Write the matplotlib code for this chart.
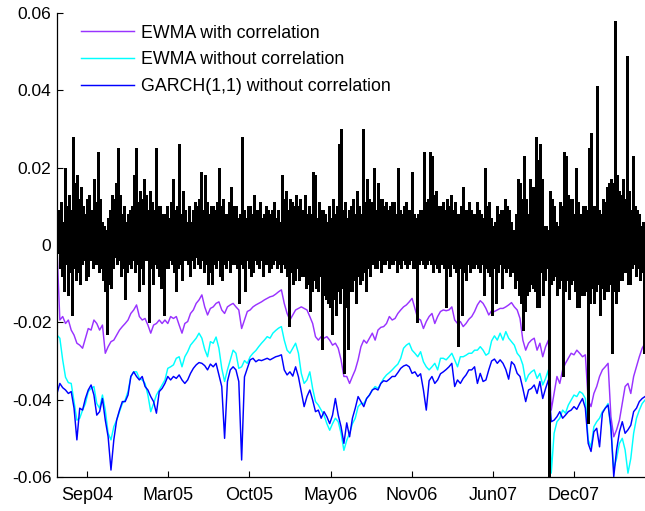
import numpy as np
import pandas as pd
import matplotlib
matplotlib.use('Agg')
import matplotlib.pyplot as plt

# ---------------- data (values in 1e-3 units) ----------------
line_dates = pd.date_range('2004-06-28', periods=208, freq='7D')
bar_dates = pd.date_range('2004-06-28', periods=580, freq='60h')

ewma_corr = np.array([
    -1.0, -19.4, -18.5, -20.3, -19.4, -22.0, -23.3, -25.4, -25.9, -26.7,
    -24.1, -21.6, -22.0, -19.4, -20.3, -22.0, -20.7, -28.0, -26.3, -25.0,
    -24.6, -23.3, -22.0, -21.1, -20.3, -19.4, -17.7, -16.8, -15.5, -18.5,
    -19.4, -19.0, -20.7, -22.8, -20.7, -20.3, -19.4, -20.3, -19.4, -20.3,
    -18.5, -19.0, -18.5, -20.7, -22.8, -20.3, -19.8, -17.7, -16.8, -15.1,
    -14.2, -12.9, -16.0, -18.1, -16.4, -16.0, -15.1, -14.7, -16.8, -17.7,
    -16.0, -15.5, -15.1, -16.0, -16.8, -21.6, -19.4, -17.2, -16.8, -16.0,
    -15.5, -15.1, -14.7, -14.2, -13.8, -13.4, -13.2, -12.7, -12.1, -11.6,
    -15.1, -17.7, -19.4, -18.1, -16.8, -16.4, -16.0, -16.4, -16.8, -18.5,
    -20.3, -23.7, -24.6, -23.7, -24.1, -23.7, -24.6, -25.9, -25.4, -26.7,
    -29.7, -34.0, -34.0, -35.8, -34.0, -32.3, -29.7, -26.3, -24.6, -25.4,
    -24.1, -22.8, -24.6, -22.0, -21.3, -21.1, -20.3, -18.5, -19.4, -19.0,
    -17.7, -16.8, -16.0, -15.5, -14.7, -13.8, -16.4, -19.0, -19.4, -21.6,
    -19.8, -18.5, -17.7, -20.3, -18.5, -17.2, -16.8, -17.0, -16.8, -16.0,
    -19.4, -20.3, -19.8, -21.1, -20.3, -19.2, -18.5, -17.2, -15.5, -14.4,
    -15.1, -16.4, -18.1, -17.0, -17.2, -16.8, -16.4, -16.4, -16.0, -15.5,
    -14.9, -16.0, -16.8, -19.0, -24.6, -27.2, -25.4, -24.6, -24.1, -27.2,
    -25.4, -28.9, -26.3, -24.6, -42.7, -38.4, -34.0, -35.8, -32.3, -30.6,
    -29.3, -28.0, -28.4, -27.2, -28.0, -28.9, -28.4, -40.1, -41.8, -38.4,
    -36.6, -34.0, -32.3, -31.5, -30.6, -44.4, -49.6, -47.8, -45.3, -41.0,
    -36.6, -35.8, -38.4, -34.0, -31.5, -28.9, -26.7, -25.4]) / 1000

ewma_nocorr = np.array([
    -23.3, -24.1, -29.7, -34.2, -35.6, -35.8, -40.5, -45.3, -44.8, -42.7,
    -41.0, -37.9, -37.1, -36.6, -41.0, -42.2, -38.8, -42.7, -48.7, -50.4,
    -47.0, -45.3, -43.1, -41.0, -40.1, -37.9, -34.0, -32.8, -32.8, -34.5,
    -34.9, -35.8, -38.8, -43.1, -41.0, -38.8, -37.5, -36.2, -34.9, -31.9,
    -31.5, -31.0, -29.3, -28.9, -31.5, -28.9, -27.6, -25.9, -25.0, -24.1,
    -22.8, -24.1, -27.0, -28.9, -25.0, -25.4, -23.8, -26.7, -31.9, -35.3,
    -32.3, -29.7, -27.2, -28.0, -31.9, -31.5, -29.9, -30.6, -28.9, -28.0,
    -27.3, -26.3, -25.4, -24.6, -23.7, -24.1, -22.8, -22.1, -21.5, -21.1,
    -24.6, -27.2, -28.0, -26.7, -25.4, -28.0, -33.2, -35.8, -34.9, -32.8,
    -37.1, -40.5, -41.4, -42.7, -44.0, -46.2, -47.9, -46.2, -44.8, -45.7,
    -48.7, -53.1, -50.5, -48.7, -46.2, -44.8, -41.8, -41.0, -41.0, -39.7,
    -38.8, -37.5, -36.6, -37.1, -35.8, -34.5, -33.6, -33.0, -32.3, -31.5,
    -30.8, -29.3, -26.7, -25.9, -25.4, -27.2, -28.0, -28.9, -27.6, -30.2,
    -31.5, -32.3, -31.5, -30.6, -32.3, -29.3, -29.3, -29.7, -28.9, -28.0,
    -29.7, -31.5, -28.9, -28.9, -28.5, -28.0, -28.0, -27.2, -27.2, -26.3,
    -27.2, -28.5, -28.0, -24.8, -23.5, -24.6, -22.8, -24.6, -22.4, -24.1,
    -25.0, -25.9, -28.0, -28.9, -31.0, -35.3, -33.6, -32.8, -32.3, -34.5,
    -33.2, -36.2, -34.5, -32.3, -59.0, -48.7, -45.7, -44.8, -42.7, -43.5,
    -41.4, -40.1, -38.8, -39.2, -37.9, -38.4, -39.7, -50.4, -52.2, -47.0,
    -45.7, -44.8, -43.1, -42.2, -41.0, -47.8, -57.8, -55.2, -51.3, -50.0,
    -53.0, -59.0, -55.2, -48.7, -44.8, -42.7, -41.0, -40.1]) / 1000

garch_nocorr = np.array([
    -38.4, -35.8, -36.9, -37.5, -38.4, -37.9, -42.2, -50.4, -42.2, -42.7,
    -39.7, -37.5, -36.2, -38.8, -44.0, -43.1, -39.7, -45.3, -49.6, -58.2,
    -50.4, -45.3, -42.7, -40.5, -40.5, -38.8, -34.0, -32.8, -34.0, -34.9,
    -34.0, -36.6, -37.5, -39.2, -40.5, -43.5, -37.9, -37.1, -35.8, -34.0,
    -34.9, -34.0, -34.5, -33.6, -34.9, -35.8, -34.9, -33.2, -31.9, -31.0,
    -30.4, -30.6, -31.2, -32.3, -30.8, -31.5, -30.6, -33.6, -36.6, -50.0,
    -35.3, -32.3, -31.5, -32.3, -35.3, -55.6, -34.1, -31.9, -29.7, -29.3,
    -30.2, -29.7, -29.9, -29.6, -29.3, -29.7, -29.3, -28.9, -28.7, -28.4,
    -32.3, -33.6, -32.8, -33.9, -31.5, -34.1, -37.9, -41.8, -39.2, -37.5,
    -40.1, -43.1, -42.7, -44.8, -43.1, -44.4, -46.2, -44.0, -39.7, -44.0,
    -47.0, -51.3, -46.0, -49.6, -44.8, -42.2, -39.2, -40.5, -41.8, -39.7,
    -38.8, -37.5, -37.1, -37.5, -35.8, -35.1, -35.3, -34.7, -34.0, -34.0,
    -33.0, -31.9, -31.3, -31.0, -31.5, -33.2, -32.8, -34.0, -33.3, -37.5,
    -42.7, -35.1, -34.0, -35.8, -34.9, -33.3, -32.8, -32.2, -31.5, -30.6,
    -36.6, -34.9, -35.8, -34.5, -33.6, -32.3, -32.3, -31.5, -35.8, -33.2,
    -35.3, -34.9, -32.3, -30.0, -29.5, -30.6, -29.7, -30.6, -32.2, -34.7,
    -30.2, -31.0, -33.2, -34.0, -37.1, -40.5, -37.5, -37.1, -36.2, -38.4,
    -35.3, -39.7, -37.1, -34.9, -45.7, -45.3, -44.4, -43.1, -44.8, -44.0,
    -43.1, -42.7, -41.8, -42.5, -41.0, -39.7, -42.2, -51.3, -53.4, -48.3,
    -47.4, -52.2, -43.5, -42.2, -41.4, -47.0, -59.9, -53.0, -48.3, -45.7,
    -48.7, -47.8, -46.6, -43.1, -42.2, -40.5, -39.7, -39.2]) / 1000

# daily-return bars, one value every 2.5 days (read as up/down pairs)
returns = np.array([
    3, -2, 9, -6, 11, -8, 6, -12, 20, -5, 10, -13, 13, -7, 9, -18, 28, -6, 16, -9,
    18, -7, 12, -10, 15, -5, 10, -4, 8, -9, 12, -8, 13, -4, 9, -6, 17, -5, 11, -5,
    24, -7, 12, -6, 6, -9, 5, -12, 4, -23, 7, -10, 9, -11, 13, -6, 12, -3, 16, -5,
    25, -4, 13, -8, 8, -6, 10, -14, 6, -7, 8, -5, 9, -6, 10, -4, 18, -7, 25, -5,
    11, -12, 14, -6, 12, -10, 17, -4, 13, -4, 9, -20, 14, -6, 11, -10, 9, -5, 25, -6,
    10, -8, 10, -11, 8, -18, 8, -6, 10, -6, 7, -4, 11, -5, 17, -7, 9, -12, 10, -6,
    26, -5, 8, -9, 14, -4, 9, -4, 6, -5, 10, -8, 6, -4, 9, -6, 11, -3, 10, -5,
    12, -6, 19, -4, 9, -7, 18, -5, 11, -10, 8, -7, 10, -10, 10, -5, 9, -6, 11, -4,
    20, -8, 10, -9, 12, -5, 8, -6, 8, -4, 11, -7, 15, -5, 10, -5, 10, -6, 7, -15,
    8, -5, 28, -6, 9, -12, 7, -4, 10, -6, 10, -8, 8, -7, 13, -4, 9, -5, 9, -6,
    11, -4, 7, -8, 8, -5, 10, -5, 9, -7, 8, -6, 9, -5, 11, -4, 7, -6, 9, -5,
    6, -7, 18, -5, 12, -6, 14, -8, 9, -21, 12, -7, 11, -10, 10, -9, 13, -6, 10, -9,
    12, -8, 9, -8, 13, -11, 8, -10, 10, -17, 8, -12, 19, -9, 18, -11, 7, -12, 11, -8,
    9, -27, 9, -13, 8, -14, 6, -15, 10, -16, 7, -23, 12, -14, 8, -18, 10, -12, 26, -15,
    30, -11, 9, -33, 11, -16, 7, -27, 9, -12, 10, -12, 12, -9, 8, -15, 14, -8, 10, -10,
    8, -9, 30, -7, 11, -12, 17, -6, 12, -8, 11, -5, 20, -6, 9, -6, 16, -4, 12, -7,
    12, -5, 10, -5, 11, -4, 9, -6, 10, -5, 11, -5, 11, -4, 8, -7, 20, -5, 9, -6,
    8, -4, 10, -5, 11, -6, 9, -5, 9, -4, 19, -6, 8, -6, 7, -20, 8, -5, 9, -4,
    9, -5, 24, -6, 11, -5, 12, -4, 24, -5, 23, -7, 13, -5, 14, -6, 10, -7, 10, -5,
    11, -6, 9, -16, 12, -6, 10, -8, 13, -5, 9, -6, 11, -7, 8, -26, 8, -6, 10, -18,
    15, -7, 9, -9, 9, -5, 11, -7, 9, -6, 8, -6, 8, -5, 11, -6, 9, -7, 8, -5,
    7, -13, 20, -6, 10, -7, 11, -8, 7, -18, 5, -6, 6, -15, 10, -7, 8, -5, 9, -11,
    9, -6, 12, -7, 10, -6, 9, -8, 6, -7, 4, -11, 8, -9, 17, -13, 16, -15, 12, -22,
    23, -17, 12, -13, 8, -12, 17, -10, 15, -11, 15, -12, 28, -16, 22, -16, 26, -7, 17, -13,
    5, -9, 5, -6, 4, -61, 14, -10, 12, -9, 10, -8, 6, -13, 5, -11, 11, -9, 10, -34,
    24, -12, 23, -9, 13, -14, 12, -10, 12, -9, 8, -12, 20, -16, 11, -16, 8, -13, 10, -13,
    10, -12, 9, -46, 25, -15, 29, -11, 10, -15, 10, -12, 41, -10, 9, -18, 8, -11, 12, -14,
    11, -12, 15, -12, 16, -10, 17, -28, 16, -12, 58, -15, 18, -12, 14, -9, 13, -9, 17, -7,
    12, -7, 49, -10, 14, -10, 9, -6, 23, -5, 10, -8, 9, -6, 8, -9, 5, -7, 6, -28]) / 1000

series_labels = ['EWMA with correlation', 'EWMA without correlation',
                 'GARCH(1,1) without correlation']
series_colors = ['#9933ff', '#00ffff', '#0000ff']

tick_dates = pd.to_datetime(['2004-09-10', '2005-03-29', '2005-10-15', '2006-05-03',
                             '2006-11-19', '2007-06-07', '2007-12-24'])
tick_labels = ['Sep04', 'Mar05', 'Oct05', 'May06', 'Nov06', 'Jun07', 'Dec07']
y_ticks = [-0.06, -0.04, -0.02, 0, 0.02, 0.04, 0.06]
y_labels = ['-0.06', '-0.04', '-0.02', '0', '0.02', '0.04', '0.06']

# ---------------- figure ----------------
plt.rcParams['font.family'] = ['Liberation Sans', 'DejaVu Sans']
fig = plt.figure(figsize=(6.45, 5.11), dpi=100)
ax = fig.add_axes([57 / 645, 34 / 511, 588 / 645, 464 / 511])

for vals, lab, col in zip([ewma_corr, ewma_nocorr, garch_nocorr], series_labels, series_colors):
    ax.plot(line_dates, vals, color=col, lw=1.05, label=lab, zorder=2)

ax.vlines(bar_dates, 0, returns, color='black', lw=0.95, antialiased=False, zorder=3)
ax.axhline(0, color='black', lw=1.0, zorder=3)

ax.set_xlim(pd.Timestamp('2004-06-28'), pd.Timestamp('2008-06-16'))
ax.set_ylim(-0.06, 0.06)
ax.set_xticks(tick_dates)
ax.set_xticklabels(tick_labels)
ax.set_yticks(y_ticks)
ax.set_yticklabels(y_labels)
ax.tick_params(direction='in', length=4, width=0.8, labelsize=12.5, colors='black')
ax.tick_params(axis='x', pad=7, labelsize=13)
ax.tick_params(axis='y', pad=4)
for s in ['top', 'right']:
    ax.spines[s].set_visible(False)
for s in ['left', 'bottom']:
    ax.spines[s].set_linewidth(0.9)

leg = ax.legend(loc='upper left', bbox_to_anchor=(0.04, 0.975), frameon=False,
                fontsize=12.8, handlelength=3.0, handletextpad=0.4,
                labelspacing=0.55, borderpad=0, borderaxespad=0)

fig.savefig('out.png', dpi=100)
